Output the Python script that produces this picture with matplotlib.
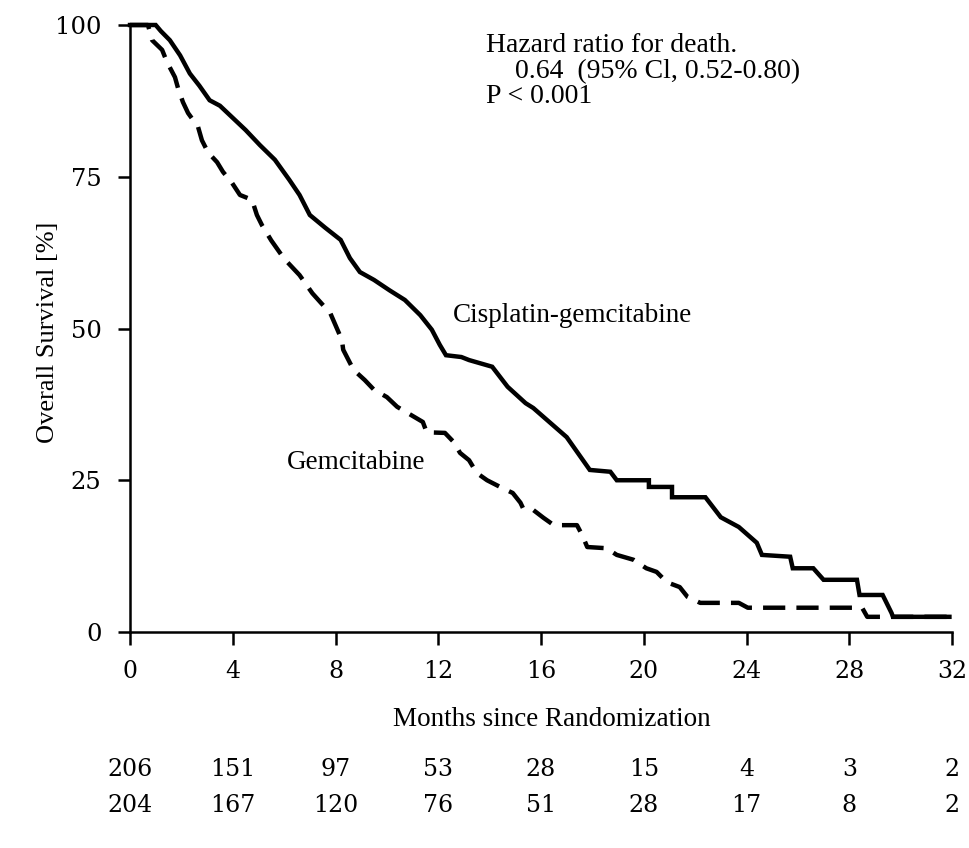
import matplotlib
matplotlib.use("Agg")
import matplotlib.pyplot as plt
from matplotlib.transforms import blended_transform_factory

# ---- data ----
cis_t = [0, 1.0, 1.2, 1.55, 1.95, 2.33, 2.7, 3.1, 3.5, 4.0, 4.5, 5.06, 5.64, 6.2, 6.6, 7.0,
         7.6, 8.2, 8.56, 8.95, 9.5, 10.1, 10.7, 11.3, 11.75, 12.06, 12.3, 12.9, 13.2, 14.1,
         14.7, 15.4, 15.7, 17.0, 17.9, 18.7, 18.95, 20.2, 20.2, 21.1, 21.1, 22.4, 23.0, 23.7,
         24.4, 24.6, 25.7, 25.8, 26.6, 27.0, 28.3, 28.4, 29.3, 29.65, 29.7, 31.9]
cis_s = [100, 100, 99, 97.5, 95, 92, 90, 87.6, 86.7, 84.7, 82.7, 80.2, 77.8, 74.5, 72, 68.7,
         66.6, 64.6, 61.6, 59.3, 58, 56.3, 54.7, 52.2, 49.8, 47.3, 45.6, 45.3, 44.8, 43.7,
         40.4, 37.7, 36.9, 32.1, 26.7, 26.4, 25.0, 25.0, 23.9, 23.9, 22.2, 22.2, 18.9, 17.3,
         14.7, 12.7, 12.4, 10.5, 10.5, 8.6, 8.6, 6.1, 6.1, 3.1, 2.5, 2.5]

gem_t = [0, 0.7, 0.86, 1.25, 1.44, 1.75, 1.87, 2.06, 2.26, 2.65, 2.8, 3.04, 3.39, 3.62, 3.97,
         4.28, 4.75, 4.94, 5.14, 5.5, 6.0, 6.6, 7.1, 7.8, 8.25, 8.3, 8.7, 9.14, 9.5, 10.0, 10.4,
         10.8, 11.4, 11.55, 12.26, 12.6, 12.85, 13.2, 13.5, 13.9, 14.5, 14.9, 15.2, 15.3, 15.7,
         16.1, 16.5, 17.4, 17.6, 17.8, 18.55, 18.95, 19.6, 20.1, 20.5, 20.9, 21.4, 21.7, 22.2,
         23.7, 24.05, 28.5, 28.7, 31.9]
gem_s = [100, 100, 97.5, 95.9, 93.9, 91.4, 89.6, 87.3, 85.5, 83.2, 81, 79, 77.4, 75.8, 74,
         72, 71.2, 68.7, 67, 64.5, 61.5, 58.8, 55.8, 52.5, 48.1, 46.5, 43.2, 41.5, 39.9, 38.7, 37.1,
         36.1, 34.6, 32.9, 32.8, 31.3, 29.5, 28.3, 26.2, 25.0, 23.7, 22.9, 21.3, 20.4, 20.1,
         18.8, 17.6, 17.6, 16.0, 14.0, 13.8, 12.7, 11.9, 10.5, 9.9, 8.2, 7.4, 5.8, 4.8,
         4.8, 4.0, 4.0, 2.5, 2.5]

x_ticks = [0, 4, 8, 12, 16, 20, 24, 28, 32]
y_ticks = [0, 25, 50, 75, 100]
risk_cis = [206, 151, 97, 53, 28, 15, 4, 3, 2]
risk_gem = [204, 167, 120, 76, 51, 28, 17, 8, 2]

serif = ["Liberation Serif", "DejaVu Serif"]
digits = ["DejaVu Serif"]

fig = plt.figure(figsize=(9.69, 8.48), dpi=100)
ax = fig.add_axes([130/969, 1-632/848, (952-130)/969, (632-25)/848])

ax.plot(cis_t, cis_s, color="black", lw=3.2, solid_joinstyle="miter", clip_on=False, zorder=3)
ax.plot(gem_t, gem_s, color="black", lw=3.2, linestyle=(0, (5, 2.5)), clip_on=False, zorder=2)

ax.set_xlim(0, 32)
ax.set_ylim(0, 100)
for s in ["top", "right"]:
    ax.spines[s].set_visible(False)
for s in ["left", "bottom"]:
    ax.spines[s].set_linewidth(1.8)
ax.set_xticks(x_ticks)
ax.set_yticks(y_ticks)
ax.set_xticklabels([str(v) for v in x_ticks], family=digits, fontsize=17)
ax.set_yticklabels([str(v) for v in y_ticks], family=digits, fontsize=17.5)
ax.tick_params(axis="x", direction="out", length=9.5, width=1.8, pad=11)
ax.tick_params(axis="y", direction="out", length=8.5, width=1.8, pad=12)

ax.set_xlabel("Months since Randomization", family=serif, fontsize=19.5)
ax.xaxis.label.set_va("center")
ax.xaxis.set_label_coords((551.5-130)/822, (632-720)/607)
ax.set_ylabel("Overall Survival [%]", family=serif, fontsize=19)
ax.yaxis.label.set_va("center")
ax.yaxis.set_label_coords((48-130)/822, (632-332)/607)

ax.text(13.85, 96.7, "Hazard ratio for death.", family=serif, fontsize=20, va="center", ha="left")
ax.text(15.0, 92.4, "0.64  (95% Cl, 0.52-0.80)", family=serif, fontsize=20, va="center", ha="left")
ax.text(13.85, 88.3, "P < 0.001", family=serif, fontsize=20, va="center", ha="left")
ax.text(12.57, 52.2, "Cisplatin-gemcitabine", family=serif, fontsize=19.5, va="center", ha="left")
ax.text(6.1, 28.0, "Gemcitabine", family=serif, fontsize=19.5, va="center", ha="left")

tr = blended_transform_factory(ax.transData, fig.transFigure)
for xv, a, b in zip(x_ticks, risk_cis, risk_gem):
    ax.text(xv, 1-770/848, str(a), family=digits, fontsize=17, ha="center", va="center", transform=tr)
    ax.text(xv, 1-805/848, str(b), family=digits, fontsize=17, ha="center", va="center", transform=tr)

fig.savefig("out.png", dpi=100)
